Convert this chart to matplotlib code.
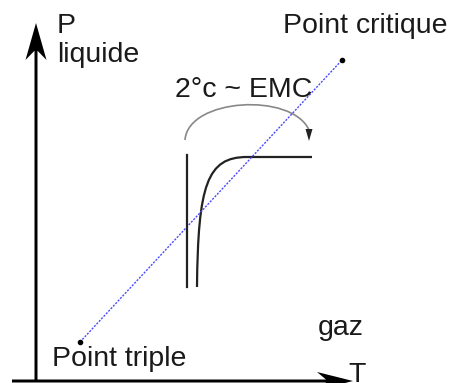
import numpy as np
import matplotlib.pyplot as plt
from matplotlib.patches import FancyArrow, PathPatch
from matplotlib.path import Path

# diagram points (pixel space of the picture, y pointing down)
triple_pt = (80, 342)
critical_pt = (342, 60)

# two isotherm-like curves
left_curve_x = [187, 187]
left_curve_y = [155, 287]
bend_curve = [(197, 287), (198, 185), (207, 157), (247, 157), (312, 157)]

# arc over the curves
arc_pts = [(185, 140), (188, 98), (292, 92), (309, 130)]

labels = [
    ("P", 57, 33),
    ("liquide", 57, 62),
    ("Point critique", 283, 33),
    ("2°c ~ EMC", 175, 97),
    ("gaz", 318, 335),
    ("Point triple", 52, 366),
    ("T", 348, 382),
]

plt.rcParams['font.family'] = ['Liberation Sans', 'DejaVu Sans']

fig = plt.figure(figsize=(4.56, 3.83), dpi=100)
ax = fig.add_axes([0, 0, 1, 1])
ax.set_xlim(0, 456)
ax.set_ylim(383, 0)
ax.axis('off')

# axes arrows
ax.add_patch(FancyArrow(36, 381, 0, -358, width=3, head_width=21, head_length=37,
                        overhang=0.25, length_includes_head=True, color='black', lw=0))
ax.add_patch(FancyArrow(12, 381, 341, 0, width=3, head_width=18, head_length=36,
                        overhang=0.25, length_includes_head=True, color='black', lw=0))

# triple point -> critical point
ax.plot([triple_pt[0], critical_pt[0]], [triple_pt[1], critical_pt[1]],
        color='#4a4aff', lw=1, ls=(0, (1.5, 1)))
ax.plot([triple_pt[0], critical_pt[0]], [triple_pt[1], critical_pt[1]], 'o',
        color='black', ms=3)

# curves
ax.plot(left_curve_x, left_curve_y, color='#222222', lw=1.6)
codes = [Path.MOVETO, Path.CURVE4, Path.CURVE4, Path.CURVE4, Path.LINETO]
ax.add_patch(PathPatch(Path(bend_curve, codes), fill=False, color='#222222', lw=1.6))

# arc arrow
arc = Path(arc_pts, [Path.MOVETO, Path.CURVE4, Path.CURVE4, Path.CURVE4])
ax.add_patch(PathPatch(arc, fill=False, color='#888888', lw=1.2))
ax.add_patch(FancyArrow(309, 129, 0, 12, width=0, head_width=7, head_length=12,
                        length_includes_head=True, color='#222222', lw=0))

for txt, x, y in labels:
    ax.text(x, y, txt, fontsize=20.5, color='#1a1a1a', ha='left', va='baseline')

fig.savefig('out.png', dpi=100)
